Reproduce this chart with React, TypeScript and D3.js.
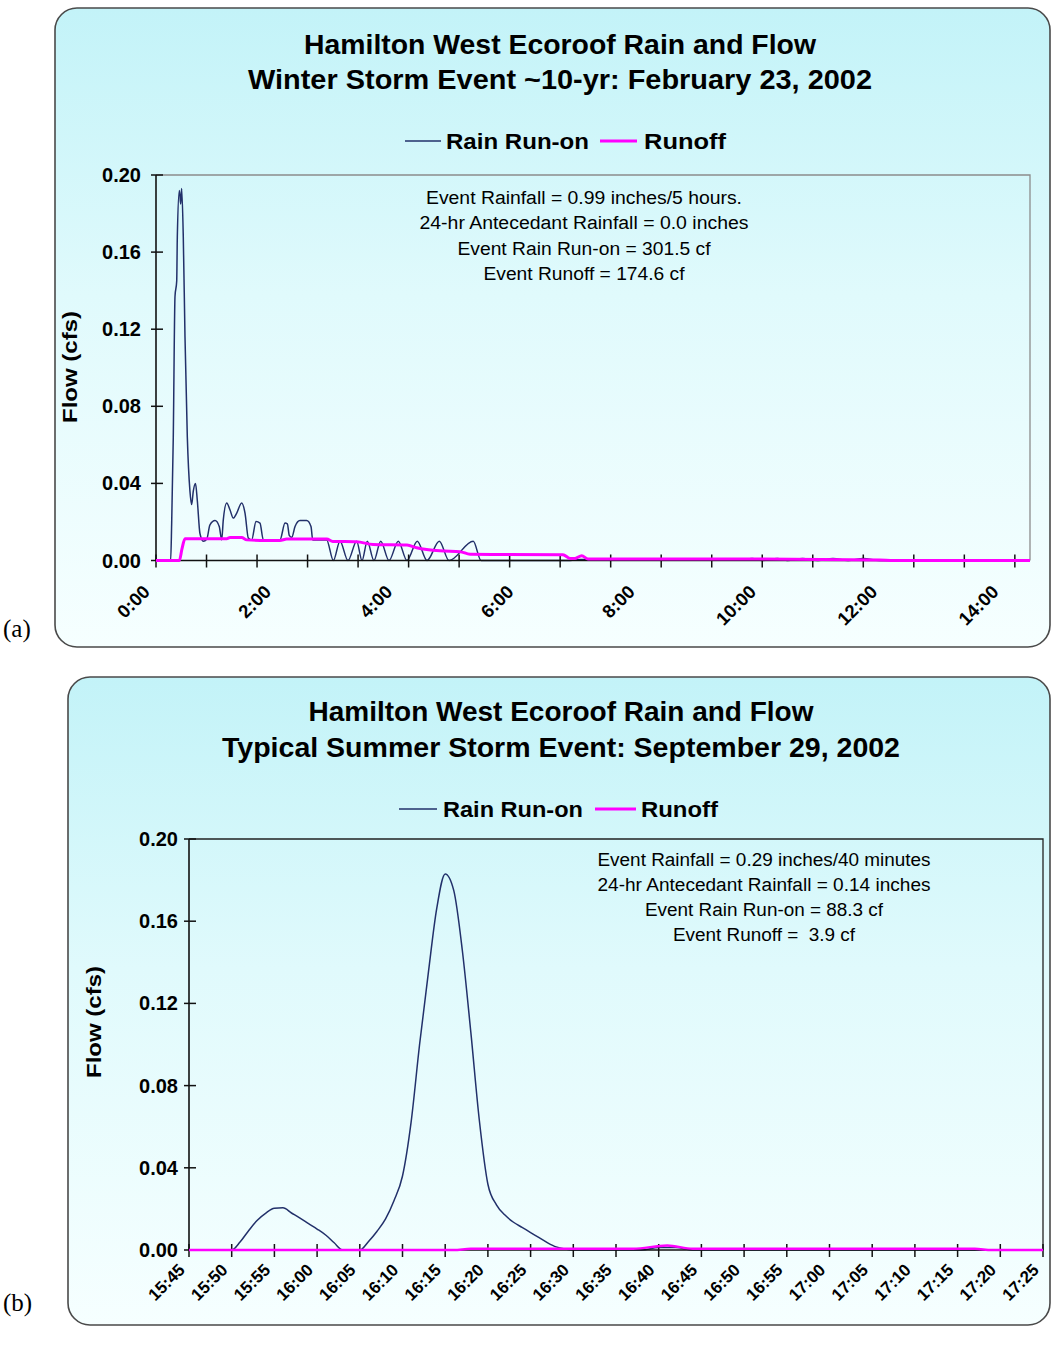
import React from "react";
import * as d3 from "d3";

const FONT = "'Liberation Sans', Arial, Helvetica, sans-serif";
const RAIN_COLOR = "#22306a";
const RUNOFF_COLOR = "#ff00ff";

// ---------- Panel (a): winter storm, minutes after 0:00 ----------
const winterRainTime = [0, 14.5, 15.5, 17.1, 18.8, 20.5, 21.1, 23.1, 24.4, 25.4, 27.0, 28.7, 31.0, 33.6, 35.3, 36.9, 39.1, 40.9, 43.5, 46.8, 50.2, 53.4, 58.4, 62.6, 65.0, 66.6, 70.0, 73.2, 76.5, 79.9, 84.8, 88.1, 91.4, 94.7, 99.0, 102.9, 106.2, 122.7, 127.7, 130.0, 131.9, 134.3, 137.6, 142.5, 149.1, 153.4, 155.1, 168.9, 175.5, 182.1, 190.0, 198.6, 203.9, 209.1, 215.7, 222.4, 230.6, 239.8, 248.4, 258.6, 268.2, 280.4, 290.0, 314.0, 321.7, 410, 420, 578, 590, 600, 615, 625, 640, 655, 670, 685, 700, 716, 865];
const winterRainFlow = [0, 0, 0.019, 0.064, 0.137, 0.145, 0.168, 0.192, 0.185, 0.193, 0.168, 0.116, 0.064, 0.036, 0.029, 0.036, 0.040, 0.031, 0.014, 0.010, 0.011, 0.0185, 0.0207, 0.0176, 0.0107, 0.0211, 0.0298, 0.0263, 0.022, 0.0246, 0.0298, 0.0246, 0.0116, 0.0107, 0.0202, 0.0194, 0.0107, 0.0107, 0.0194, 0.019, 0.013, 0.012, 0.0176, 0.0207, 0.0207, 0.0176, 0.0107, 0.0107, 0, 0.01, 0, 0.01, 0, 0.01, 0, 0.01, 0, 0.01, 0, 0.01, 0, 0.01, 0, 0.01, 0, 0, 0.0005, 0.0005, 0.001, 0, 0.001, 0, 0.001, 0, 0.001, 0, 0.001, 0, 0];
const winterRunoffTime = [0, 23.1, 25.7, 28.7, 70, 73.2, 84.8, 89.8, 109.6, 122.7, 129.4, 169, 175, 198.6, 214.8, 248.4, 258, 281, 300.9, 310.8, 402.8, 409.7, 414.7, 421.3, 427.6, 578, 716, 730, 865];
const winterRunoffFlow = [0, 0, 0.006, 0.0113, 0.0113, 0.0119, 0.0119, 0.0107, 0.0104, 0.0104, 0.0111, 0.0111, 0.0099, 0.0097, 0.0083, 0.0080, 0.0066, 0.0050, 0.0046, 0.0032, 0.0030, 0.0011, 0.0011, 0.0025, 0.0008, 0.0008, 0.0003, 0, 0];
const winterTickMinutes = d3.range(0, 851, 50);
const winterLabelMinutes = [0, 120, 240, 360, 480, 600, 720, 840];
const winterLabels = ["0:00", "2:00", "4:00", "6:00", "8:00", "10:00", "12:00", "14:00"];
const winterTitles = ["Hamilton West Ecoroof Rain and Flow", "Winter Storm Event ~10-yr: February 23, 2002"];
const winterNotes = [
  "Event Rainfall = 0.99 inches/5 hours.",
  "24-hr Antecedant Rainfall = 0.0 inches",
  "Event Rain Run-on = 301.5 cf",
  "Event Runoff = 174.6 cf",
];

// ---------- Panel (b): summer storm, minutes after 15:45 ----------
const summerRainTime = [0, 5, 6, 7, 8, 9, 10, 11, 12, 13, 14, 15, 16, 17, 18, 20, 21, 22, 23, 24, 25, 26, 27, 28, 29, 30, 31, 32, 33, 34, 35, 36, 37, 38, 39, 40, 41, 42, 43, 44, 45, 53, 55, 57, 59, 100];
const summerRainFlow = [0, 0, 0.004, 0.0095, 0.0145, 0.018, 0.0203, 0.0205, 0.018, 0.0155, 0.0128, 0.0102, 0.0073, 0.0035, 0, 0, 0.004, 0.009, 0.015, 0.024, 0.036, 0.062, 0.100, 0.134, 0.166, 0.183, 0.175, 0.146, 0.106, 0.063, 0.032, 0.022, 0.017, 0.0135, 0.011, 0.0085, 0.006, 0.0035, 0.0015, 0.0005, 0, 0, 0.0012, 0.0012, 0, 0];
const summerRunoffTime = [0, 31, 33, 52, 56, 59, 92, 94, 100];
const summerRunoffFlow = [0, 0, 0.0006, 0.0006, 0.0022, 0.0006, 0.0006, 0, 0];
const summerTickMinutes = d3.range(0, 101, 5);
const summerLabelMinutes = d3.range(0, 101, 5);
const summerLabels = ["15:45", "15:50", "15:55", "16:00", "16:05", "16:10", "16:15", "16:20", "16:25", "16:30", "16:35", "16:40", "16:45", "16:50", "16:55", "17:00", "17:05", "17:10", "17:15", "17:20", "17:25"];
const summerTitles = ["Hamilton West Ecoroof Rain and Flow", "Typical Summer Storm Event: September 29, 2002"];
const summerNotes = [
  "Event Rainfall = 0.29 inches/40 minutes",
  "24-hr Antecedant Rainfall = 0.14 inches",
  "Event Rain Run-on = 88.3 cf",
  "Event Runoff =  3.9 cf",
];

const yTicks = [0, 0.04, 0.08, 0.12, 0.16, 0.2];
const legendNames = ["Rain Run-on", "Runoff"];

type Layout = {
  id: string;
  tag: string;
  tagY: number;
  box: [number, number, number, number];
  plot: { l: number; r: number; t: number; b: number };
  xMax: number;
  titleCx: number;
  titleY: [number, number];
  titleLen: [number, number];
  legendY: number;
  leg: { l1: [number, number]; t1: number; w1: number; l2: [number, number]; t2: number; w2: number };
  yLabX: number;
  flowC: [number, number];
  noteCx: number;
  noteY0: number;
  noteDy: number;
  noteLen: number[];
  xLabY: number;
  xLabDx: number;
  xLabSize: number;
  frameColor: string;
  runoffWidth: number;
};

function Panel(props: {
  L: Layout;
  rainT: number[]; rainV: number[]; runT: number[]; runV: number[];
  ticks: number[]; labM: number[]; labs: string[]; titles: string[]; notes: string[];
}) {
  const { L } = props;
  const x = d3.scaleLinear().domain([0, L.xMax]).range([L.plot.l, L.plot.r]);
  const y = d3.scaleLinear().domain([0, 0.2]).range([L.plot.b, L.plot.t]);
  const mk = (ts: number[]) =>
    d3.line<number>().x((_, i) => x(ts[i])).y((d) => y(d)).curve(d3.curveMonotoneX);
  const [bx, by, bw, bh] = L.box;
  return (
    <g>
      <defs>
        <linearGradient id={L.id} x1="0" y1="0" x2="0" y2="1">
          <stop offset="0" stopColor="#c3f3f8" />
          <stop offset="0.45" stopColor="#e0fafc" />
          <stop offset="1" stopColor="#f6ffff" />
        </linearGradient>
        <clipPath id={L.id + "c"}>
          <rect x={L.plot.l - 2} y={L.plot.t - 4} width={L.plot.r - L.plot.l + 6} height={L.plot.b - L.plot.t + 8} />
        </clipPath>
      </defs>
      <rect x={bx} y={by} width={bw} height={bh} rx={22} ry={22} fill={`url(#${L.id})`} stroke="#4a4a4a" strokeWidth={1.6} />
      <text x={3} y={L.tagY} fontFamily="'Liberation Serif', 'Times New Roman', serif" fontSize={25}>{L.tag}</text>
      {props.titles.map((t, i) => (
        <text key={t} x={L.titleCx} y={L.titleY[i]} textAnchor="middle" fontFamily={FONT} fontWeight="bold" fontSize={27}
          textLength={L.titleLen[i]} lengthAdjust="spacingAndGlyphs">{t}</text>
      ))}
      {/* legend */}
      <line x1={L.leg.l1[0]} x2={L.leg.l1[1]} y1={L.legendY - 8} y2={L.legendY - 8} stroke={RAIN_COLOR} strokeWidth={1.6} />
      <text x={L.leg.t1} y={L.legendY} fontFamily={FONT} fontWeight="bold" fontSize={22} textLength={L.leg.w1} lengthAdjust="spacingAndGlyphs">{legendNames[0]}</text>
      <line x1={L.leg.l2[0]} x2={L.leg.l2[1]} y1={L.legendY - 8} y2={L.legendY - 8} stroke={RUNOFF_COLOR} strokeWidth={3} />
      <text x={L.leg.t2} y={L.legendY} fontFamily={FONT} fontWeight="bold" fontSize={22} textLength={L.leg.w2} lengthAdjust="spacingAndGlyphs">{legendNames[1]}</text>
      {/* frame */}
      <path d={`M${L.plot.l},${L.plot.t}H${L.plot.r}V${L.plot.b}`} fill="none" stroke={L.frameColor} strokeWidth={1.3} />
      {/* y axis */}
      <line x1={L.plot.l} x2={L.plot.l} y1={L.plot.t} y2={L.plot.b} stroke="#111" strokeWidth={1.6} />
      {yTicks.map((v) => (
        <g key={v}>
          <line x1={L.plot.l - 5} x2={L.plot.l + 7} y1={y(v)} y2={y(v)} stroke="#111" strokeWidth={1.5} />
          <text x={L.yLabX} y={y(v) + 7} textAnchor="end" fontFamily={FONT} fontWeight="bold" fontSize={20}>{v.toFixed(2)}</text>
        </g>
      ))}
      <text transform={`translate(${L.flowC[0]},${L.flowC[1]}) rotate(-90)`} textAnchor="middle" fontFamily={FONT} fontWeight="bold" fontSize={21}
        textLength={112} lengthAdjust="spacingAndGlyphs">Flow (cfs)</text>
      {/* annotation */}
      {props.notes.map((t, i) => (
        <text key={i} x={L.noteCx} y={L.noteY0 + i * L.noteDy} textAnchor="middle" fontFamily={FONT} fontSize={18}
          textLength={L.noteLen[i]} lengthAdjust="spacingAndGlyphs" style={{ whiteSpace: "pre" }}>{t}</text>
      ))}
      {/* series */}
      <g clipPath={`url(#${L.id}c)`}>
        <path d={mk(props.rainT)(props.rainV) || ""} fill="none" stroke={RAIN_COLOR} strokeWidth={1.5} strokeLinejoin="round" />
      </g>
      {/* x axis */}
      <line x1={L.plot.l} x2={L.plot.r} y1={L.plot.b} y2={L.plot.b} stroke="#111" strokeWidth={1.6} />
      {props.ticks.map((m) => (
        <line key={m} x1={x(m)} x2={x(m)} y1={L.plot.b - 6} y2={L.plot.b + 7} stroke="#111" strokeWidth={1.5} />
      ))}
      <g clipPath={`url(#${L.id}c)`}>
        <path d={mk(props.runT)(props.runV) || ""} fill="none" stroke={RUNOFF_COLOR} strokeWidth={L.runoffWidth} strokeLinejoin="round" />
      </g>
      {props.labM.map((m, i) => (
        <text key={m} transform={`translate(${x(m) + L.xLabDx},${L.xLabY}) rotate(-45)`} textAnchor="end" fontFamily={FONT} fontWeight="bold" fontSize={L.xLabSize}>
          {props.labs[i]}
        </text>
      ))}
    </g>
  );
}

const layoutA: Layout = {
  id: "pa", tag: "(a)", tagY: 637,
  box: [55, 8, 995, 639],
  plot: { l: 156, r: 1030, t: 175, b: 560.5 },
  xMax: 865,
  titleCx: 560, titleY: [54, 89], titleLen: [512, 624],
  legendY: 149,
  leg: { l1: [405, 441], t1: 446, w1: 143, l2: [600, 637], t2: 644, w2: 82 },
  yLabX: 141, flowC: [77, 367],
  noteCx: 584, noteY0: 204, noteDy: 25.3, noteLen: [316, 329, 253, 201],
  xLabY: 593, xLabDx: -5, xLabSize: 18.5, frameColor: "#8c8c8c", runoffWidth: 3,
};

const layoutB: Layout = {
  id: "pb", tag: "(b)", tagY: 1311,
  box: [68, 677, 982, 648],
  plot: { l: 189, r: 1043, t: 839, b: 1250 },
  xMax: 100,
  titleCx: 561, titleY: [721, 757], titleLen: [505, 678],
  legendY: 817,
  leg: { l1: [399, 437], t1: 443, w1: 140, l2: [595, 636], t2: 641, w2: 77 },
  yLabX: 178, flowC: [101, 1022],
  noteCx: 764, noteY0: 866, noteDy: 25, noteLen: [333, 333, 238, 182],
  xLabY: 1271, xLabDx: -3, xLabSize: 17, frameColor: "#222", runoffWidth: 2.5,
};

export default function App() {
  return (
    <svg width={1052} height={1345} viewBox="0 0 1052 1345" style={{ position: "absolute", left: 0, top: 0, background: "#fff" }}>
      <rect width={1052} height={1345} fill="#fff" />
      <Panel L={layoutA} rainT={winterRainTime} rainV={winterRainFlow} runT={winterRunoffTime} runV={winterRunoffFlow}
        ticks={winterTickMinutes} labM={winterLabelMinutes} labs={winterLabels} titles={winterTitles} notes={winterNotes} />
      <Panel L={layoutB} rainT={summerRainTime} rainV={summerRainFlow} runT={summerRunoffTime} runV={summerRunoffFlow}
        ticks={summerTickMinutes} labM={summerLabelMinutes} labs={summerLabels} titles={summerTitles} notes={summerNotes} />
    </svg>
  );
}
